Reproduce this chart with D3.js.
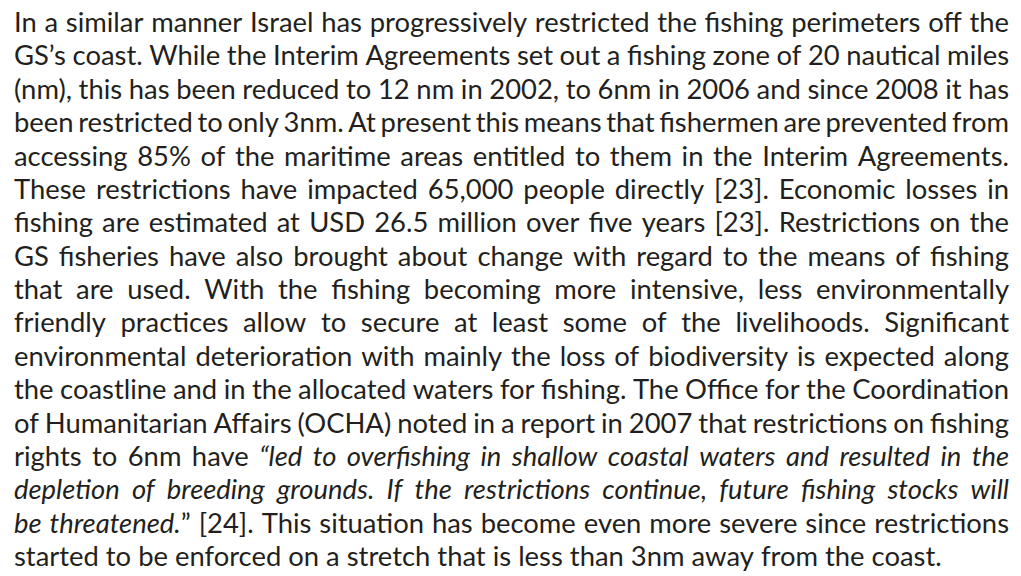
<!DOCTYPE html>
<html>
<head>
<meta charset="utf-8">
<script src="https://cdn.jsdelivr.net/npm/d3@7"></script>
<style>
  body { margin: 0; background: #fff; }
  svg { display: block; }
</style>
</head>
<body>
<div id="page"></div>
<script>
// page bounds
var svgWidth = 1021;
var svgHeight = 576;
var margin = { left: 14, right: 12, firstBase: 32, lastBase: 566 };
var textWidth = svgWidth - margin.left - margin.right;

// paragraph lines as set in the reference, *...* marks italic runs
var lines = [
  "In a similar manner Israel has progressively restricted the fishing perimeters off the",
  "GS’s coast. While the Interim Agreements set out a fishing zone of 20 nautical miles",
  "(nm), this has been reduced to 12 nm in 2002, to 6nm in 2006 and since 2008 it has",
  "been restricted to only 3nm. At present this means that fishermen are prevented from",
  "accessing 85% of the maritime areas entitled to them in the Interim Agreements.",
  "These restrictions have impacted 65,000 people directly [23]. Economic losses in",
  "fishing are estimated at USD 26.5 million over five years [23]. Restrictions on the",
  "GS fisheries have also brought about change with regard to the means of fishing",
  "that are used. With the fishing becoming more intensive, less environmentally",
  "friendly practices allow to secure at least some of the livelihoods. Significant",
  "environmental deterioration with mainly the loss of biodiversity is expected along",
  "the coastline and in the allocated waters for fishing. The Office for the Coordination",
  "of Humanitarian Affairs (OCHA) noted in a report in 2007 that restrictions on fishing",
  "rights to 6nm have *“led to overfishing in shallow coastal waters and resulted in the*",
  "*depletion of breeding grounds. If the restrictions continue, future fishing stocks will*",
  "*be threatened.*” [24]. This situation has become even more severe since restrictions",
  "started to be enforced on a stretch that is less than 3nm away from the coast."
];
// the last line is not justified and ends here
var lastLineEnd = 942;

var svg = d3.select("#page")
  .append("svg")
  .attr("width", svgWidth)
  .attr("height", svgHeight);

var textGroup = svg.append("g")
  .attr("font-family", "Lato, 'Open Sans', sans-serif")
  .attr("fill", "#231f20")
  .attr("font-size", 28);

// baseline of each line
var yScale = d3.scaleLinear()
  .domain([0, lines.length - 1])
  .range([margin.firstBase, margin.lastBase]);

// splits a line into words, each word a list of roman / italic runs
function parseLine(str) {
  var italic = false;
  return str.split(" ").map(function(word) {
    var runs = [];
    word.split("*").forEach(function(part, i) {
      if (i > 0) italic = !italic;
      if (part) runs.push({ text: part, italic: italic });
    });
    return runs;
  });
}

var parsed = lines.map(parseLine);

// draws the words of every line
var lineGroups = textGroup.selectAll("g.line")
  .data(parsed)
  .enter()
  .append("g")
  .attr("class", "line")
  .attr("transform", (d, i) => `translate(0, ${yScale(i)})`);

var words = lineGroups.selectAll("text")
  .data(d => d)
  .enter()
  .append("text");

words.selectAll("tspan")
  .data(d => d)
  .enter()
  .append("tspan")
  .attr("font-style", d => d.italic ? "italic" : "normal")
  .text(d => d.text);

// space width measured from a probe
function spaceWidth() {
  var probe = textGroup.append("text").text("a a");
  var w1 = probe.node().getComputedTextLength();
  probe.text("aa");
  var w2 = probe.node().getComputedTextLength();
  probe.remove();
  return w1 - w2;
}

// fit the font size so the last line ends where it does in the reference
var lastIndex = lines.length - 1;
var lastWidths = [];
lineGroups.filter((d, i) => i === lastIndex).selectAll("text")
  .each(function() { lastWidths.push(this.getComputedTextLength()); });
var natural = d3.sum(lastWidths) + spaceWidth() * (lastWidths.length - 1);
var fontSize = 28 * (lastLineEnd - margin.left) / natural;
textGroup.attr("font-size", fontSize);

var space = spaceWidth();

// justify each line: words spread across the full width
lineGroups.each(function(d, li) {
  var ws = d3.select(this).selectAll("text");
  var widths = [];
  ws.each(function() { widths.push(this.getComputedTextLength()); });
  var gap = li === lastIndex
    ? space
    : (textWidth - d3.sum(widths)) / (widths.length - 1);
  var x = margin.left;
  ws.attr("x", function(w, i) {
    var pos = x;
    x += widths[i] + gap;
    return pos;
  });
});
</script>
</body>
</html>
